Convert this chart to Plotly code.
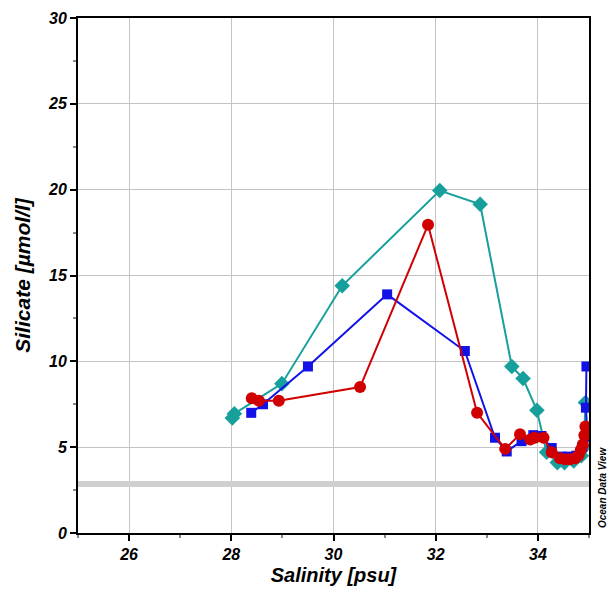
import plotly.graph_objects as go

# Station profiles: Salinity [psu] vs Silicate [umol/l]
teal_sal = [28.02, 28.06, 28.99, 30.17, 32.08, 32.87, 33.49, 33.71, 33.98, 34.17, 34.38, 34.52, 34.70, 34.85, 34.90, 34.93]
teal_sil = [6.70, 6.95, 8.70, 14.40, 19.95, 19.15, 9.70, 9.00, 7.15, 4.70, 4.10, 4.10, 4.20, 4.50, 5.00, 7.60]

blue_sal = [28.39, 28.62, 29.50, 31.05, 32.57, 33.16, 33.39, 33.68, 33.91, 34.07, 34.27, 34.45, 34.60, 34.75, 34.87, 34.97, 34.94, 34.95]
blue_sil = [7.00, 7.50, 9.70, 13.90, 10.60, 5.55, 4.75, 5.35, 5.70, 5.65, 4.95, 4.45, 4.45, 4.50, 5.00, 5.60, 7.30, 9.70]

red_sal = [28.40, 28.54, 28.93, 30.52, 31.85, 32.81, 33.36, 33.65, 33.85, 33.94, 34.11, 34.27, 34.43, 34.53, 34.63, 34.73, 34.80, 34.84, 34.88, 34.91, 34.93]
red_sil = [7.85, 7.70, 7.70, 8.50, 17.95, 7.00, 4.90, 5.75, 5.45, 5.55, 5.55, 4.70, 4.35, 4.30, 4.30, 4.35, 4.55, 4.85, 5.15, 5.70, 6.20]

ref_sal = [25.0, 35.0]
ref_sil = [2.85, 2.85]

x_ticks = [26, 28, 30, 32, 34]
y_ticks = [0, 5, 10, 15, 20, 25, 30]

FONT = "Liberation Sans, Arial, sans-serif"

fig = go.Figure()

fig.add_trace(go.Scatter(x=ref_sal, y=ref_sil, mode="lines",
                         line=dict(color="#d0d0d0", width=6), hoverinfo="skip"))

fig.add_trace(go.Scatter(x=teal_sal, y=teal_sil, mode="lines+markers",
                         line=dict(color="#17a09b", width=2),
                         marker=dict(symbol="diamond", size=12, color="#17a09b")))
fig.add_trace(go.Scatter(x=blue_sal, y=blue_sil, mode="lines+markers",
                         line=dict(color="#1212e8", width=2),
                         marker=dict(symbol="square", size=10, color="#1212e8")))
fig.add_trace(go.Scatter(x=red_sal, y=red_sil, mode="lines+markers",
                         line=dict(color="#d10000", width=2),
                         marker=dict(symbol="circle", size=12, color="#d10000")))

tick_font = dict(family=FONT, size=16, color="black", weight="bold", style="italic")
xtitle_font = dict(family=FONT, size=20, color="black", weight="bold", style="italic")
ytitle_font = dict(family=FONT, size=21, color="black", weight="bold", style="italic")

# page body has an 8px default margin, so the figure is sized/margined to compensate
fig.update_layout(
    width=607, height=591,
    margin=dict(l=70, r=26, t=10, b=66),
    paper_bgcolor="white", plot_bgcolor="white",
    showlegend=False,
    xaxis=dict(range=[25, 35], tickvals=x_ticks, ticktext=[str(v) for v in x_ticks],
               showgrid=True, gridcolor="#c4c4c4", gridwidth=1,
               showline=True, linecolor="black", linewidth=2, mirror=True,
               ticks="outside", ticklen=6, tickwidth=1.5, tickcolor="black",
               minor=dict(dtick=1, tick0=25, ticks="outside", ticklen=3, tickcolor="#888", showgrid=False),
               zeroline=False, tickfont=tick_font, automargin=False,
               title=dict(text="Salinity [psu]", font=xtitle_font, standoff=6)),
    yaxis=dict(range=[0, 30], tickvals=y_ticks, ticktext=[str(v) for v in y_ticks],
               showgrid=True, gridcolor="#c4c4c4", gridwidth=1,
               showline=True, linecolor="black", linewidth=2, mirror=True,
               ticks="outside", ticklen=6, tickwidth=1.5, tickcolor="black",
               minor=dict(dtick=2.5, tick0=0, ticks="outside", ticklen=3, tickcolor="#888", showgrid=False),
               zeroline=False, tickfont=tick_font, automargin=False,
               title=dict(text="Silicate [µmol/l]", font=ytitle_font, standoff=12)),
    annotations=[dict(text="Ocean Data View", xref="paper", yref="paper",
                      x=1.012, y=0.006, xanchor="left", yanchor="bottom",
                      textangle=-90, showarrow=False,
                      font=dict(family=FONT, size=10, color="black", weight="bold", style="italic"))],
    shapes=[dict(type="rect", xref="paper", yref="paper", x0=1.041, x1=1.047, y0=-0.13, y1=1.035,
                 fillcolor="#cfe6f3", line=dict(width=0), layer="above")],
)

fig.write_html("out.html")
